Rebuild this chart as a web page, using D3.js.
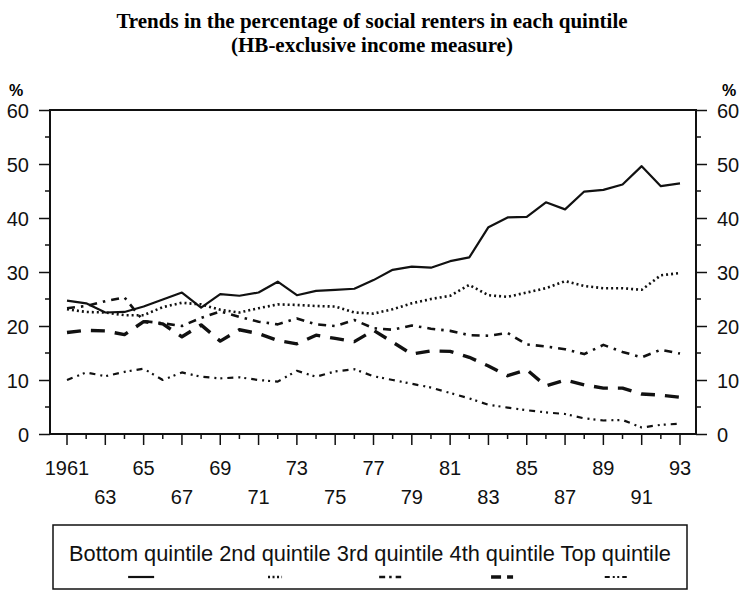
<!DOCTYPE html>
<html>
<head>
<meta charset="utf-8">
<script src="https://cdn.jsdelivr.net/npm/d3@7"></script>
<style>
body { margin: 0; background: #fff; }
</style>
</head>
<body>
<div id="chart-area"></div>
<script>
// years 1961..1993
var years = d3.range(1961, 1994)

var bottomQ = [24.7, 24.2, 22.5, 22.6, 23.6, 24.9, 26.2, 23.4, 25.9, 25.6, 26.2, 28.2, 25.7, 26.5, 26.7, 26.9, 28.5,
    30.4, 31.0, 30.8, 32.0, 32.7, 38.3, 40.1, 40.2, 42.9, 41.6, 44.9, 45.2, 46.2, 49.6, 45.9, 46.4]
var secondQ = [23.1, 22.6, 22.5, 22.0, 22.0, 23.5, 24.3, 24.0, 23.0, 22.5, 23.3, 24.0, 23.9, 23.7, 23.6, 22.5, 22.3,
    23.1, 24.2, 25.0, 25.6, 27.6, 25.7, 25.4, 26.2, 27.0, 28.3, 27.4, 27.0, 27.0, 26.7, 29.4, 29.8]
var thirdQ = [23.3, 23.7, 24.6, 25.3, 20.9, 20.5, 20.0, 21.5, 22.7, 21.7, 20.8, 20.3, 21.4, 20.3, 20.0, 21.1, 19.6,
    19.3, 20.1, 19.5, 19.1, 18.3, 18.2, 18.7, 16.6, 16.2, 15.7, 14.8, 16.5, 15.2, 14.2, 15.6, 14.9]
var fourthQ = [18.8, 19.2, 19.1, 18.4, 20.8, 20.4, 18.0, 20.2, 17.2, 19.3, 18.6, 17.3, 16.7, 18.3, 17.7, 17.1, 19.2,
    17.0, 14.8, 15.4, 15.3, 14.2, 12.6, 10.8, 11.9, 8.9, 10.0, 9.1, 8.5, 8.5, 7.4, 7.2, 6.8]
var topQ = [10.0, 11.4, 10.7, 11.5, 12.1, 10.0, 11.4, 10.6, 10.3, 10.5, 10.0, 9.7, 11.7, 10.6, 11.6, 12.0, 10.7,
    10.0, 9.3, 8.6, 7.6, 6.6, 5.4, 4.9, 4.4, 4.0, 3.7, 2.9, 2.5, 2.6, 1.2, 1.7, 1.9]

var seriesNames = ["Bottom quintile", "2nd quintile", "3rd quintile", "4th quintile", "Top quintile"]
var yTicks = [0, 10, 20, 30, 40, 50, 60]

var series = [
    {name: seriesNames[0], values: bottomQ, dash: null, width: 2.2, key: null},
    {name: seriesNames[1], values: secondQ, dash: "2,3", width: 2.6, key: "2,2.5"},
    {name: seriesNames[2], values: thirdQ, dash: "8,6,2.5,6", width: 2.6, key: "6,4,2.5,4,6"},
    {name: seriesNames[3], values: fourthQ, dash: "14,10", width: 3.4, key: "10,6,6"},
    {name: seriesNames[4], values: topQ, dash: "6,5,2,4,2,5", width: 2.2, key: "5,3,2,2.5,2,3,5"}
]

var svg = d3.select("#chart-area").append("svg")
    .attr("width", 745)
    .attr("height", 599)

var x = d3.scaleLinear().domain([1961, 1993]).range([67, 680])
var y = d3.scaleLinear().domain([0, 60]).range([434, 110])
var left = x(1961) - 17, right = x(1993) + 16

var sans = "'Liberation Sans', Arial, Helvetica, sans-serif"
var serif = "'Liberation Serif', 'Times New Roman', serif"

// title
svg.append("text")
    .attr("x", 372).attr("y", 28)
    .attr("text-anchor", "middle")
    .attr("font-family", serif)
    .attr("font-weight", "bold")
    .attr("font-size", 21)
    .text("Trends in the percentage of social renters in each quintile")
svg.append("text")
    .attr("x", 372).attr("y", 52)
    .attr("text-anchor", "middle")
    .attr("font-family", serif)
    .attr("font-weight", "bold")
    .attr("font-size", 21)
    .text("(HB-exclusive income measure)")

// % labels
svg.append("text").attr("x", 9).attr("y", 96)
    .attr("font-family", sans).attr("font-weight", "bold").attr("font-size", 16).text("%")
svg.append("text").attr("x", 722).attr("y", 96)
    .attr("font-family", sans).attr("font-weight", "bold").attr("font-size", 16).text("%")

// frame
svg.append("rect")
    .attr("x", left).attr("y", y(60))
    .attr("width", right - left).attr("height", y(0) - y(60))
    .attr("fill", "none").attr("stroke", "#111").attr("stroke-width", 2)

// minor ticks on y (5, 15, ...)
var minorY = d3.range(5, 60, 10)
svg.selectAll(".minl").data(minorY).enter().append("line")
    .attr("x1", left - 5).attr("x2", left)
    .attr("y1", function(d){ return y(d) }).attr("y2", function(d){ return y(d) })
    .attr("stroke", "#111").attr("stroke-width", 1.5)
svg.selectAll(".minr").data(minorY).enter().append("line")
    .attr("x1", right).attr("x2", right + 5)
    .attr("y1", function(d){ return y(d) }).attr("y2", function(d){ return y(d) })
    .attr("stroke", "#111").attr("stroke-width", 1.5)

var leftAxis = d3.axisLeft(y).tickValues(yTicks).tickSize(11).tickPadding(10)
var rightAxis = d3.axisRight(y).tickValues(yTicks).tickSize(11).tickPadding(10)

var gl = svg.append("g").attr("transform", "translate(" + left + ",0)").call(leftAxis)
var gr = svg.append("g").attr("transform", "translate(" + right + ",0)").call(rightAxis)
;[gl, gr].forEach(function(g){
    g.select(".domain").remove()
    g.selectAll("line").attr("stroke", "#111").attr("stroke-width", 1.5)
    g.selectAll("text").attr("font-family", sans).attr("font-size", 20).attr("fill", "#111")
        .attr("dy", "0.38em")
})

// x ticks: every year, longer at odd years
svg.selectAll(".xt").data(years).enter().append("line")
    .attr("x1", function(d){ return x(d) }).attr("x2", function(d){ return x(d) })
    .attr("y1", y(0))
    .attr("y2", function(d){ return (d % 2 == 1) ? y(0) + 11 : y(0) + 5 })
    .attr("stroke", "#111").attr("stroke-width", 1.5)

// x labels on two rows
var labelYears = years.filter(function(d){ return d % 2 == 1 })
svg.selectAll(".xl").data(labelYears).enter().append("text")
    .attr("x", function(d){ return x(d) })
    .attr("y", function(d, i){ return (i % 2 == 0) ? 475 : 504 })
    .attr("text-anchor", "middle")
    .attr("font-family", sans).attr("font-size", 20).attr("fill", "#111")
    .text(function(d, i){ return i == 0 ? "1961" : String(d).slice(2) })

// lines
var line = d3.line()
    .x(function(d, i){ return x(years[i]) })
    .y(function(d){ return y(d) })

svg.selectAll(".series").data(series).enter().append("path")
    .attr("d", function(d){ return line(d.values) })
    .attr("fill", "none")
    .attr("stroke", "#111")
    .attr("stroke-width", function(d){ return d.width })
    .attr("stroke-dasharray", function(d){ return d.dash })
    .attr("stroke-linejoin", "round")

// legend
svg.append("rect")
    .attr("x", 53).attr("y", 525).attr("width", 634).attr("height", 64)
    .attr("fill", "none").attr("stroke", "#111").attr("stroke-width", 1.5)

var legendText = svg.append("text")
    .attr("x", 69).attr("y", 561)
    .attr("font-family", sans).attr("font-size", 21.8).attr("fill", "#111")
    .attr("xml:space", "preserve")

var spans = []
series.forEach(function(s, i){
    var t = legendText.append("tspan").text(s.name + (i < series.length - 1 ? " " : ""))
    spans.push(t)
})

// place a short sample under the centre of each label
var cursor = 69
spans.forEach(function(t, i){
    var w = t.node().getComputedTextLength()
    var labelW = (i < series.length - 1) ? w - 6 : w
    var cx = cursor + labelW / 2
    cursor += w
    var len = i == 0 ? 26 : 22
    if (i == 1) len = 14
    svg.append("line")
        .attr("x1", cx - len / 2).attr("x2", cx + len / 2)
        .attr("y1", 577).attr("y2", 577)
        .attr("stroke", "#111")
        .attr("stroke-width", series[i].width)
        .attr("stroke-dasharray", series[i].key)
})
</script>
</body>
</html>
